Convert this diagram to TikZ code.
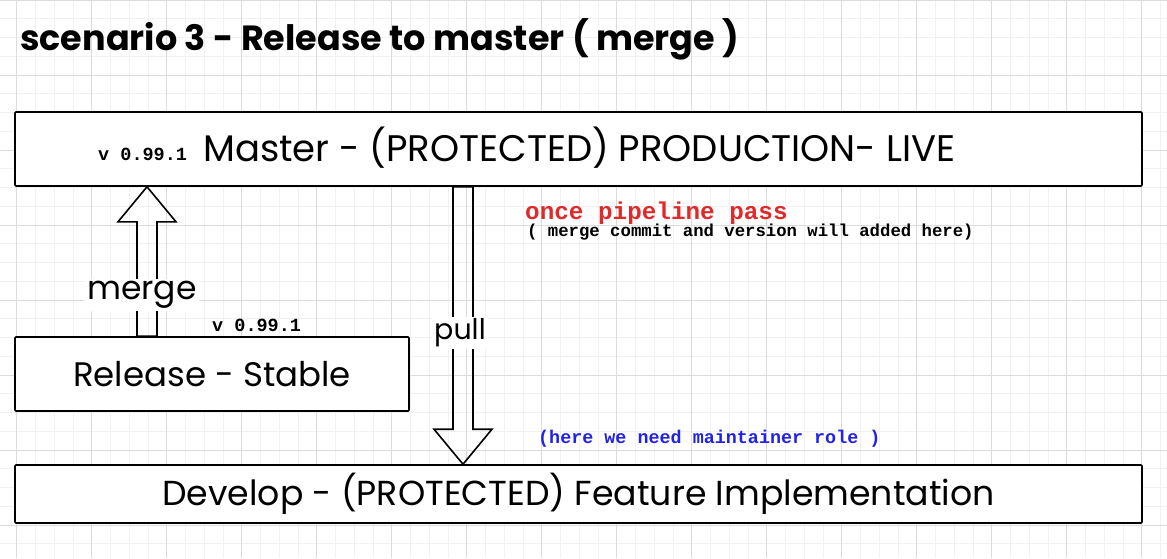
\documentclass[tikz,border=0pt]{standalone}
\usepackage{fontspec}
\usepackage{xcolor}
\setmainfont{Poppins}
\setmonofont{Liberation Mono}
\usetikzlibrary{calc, positioning}

\definecolor{gridminor}{HTML}{F1F1F1}
\definecolor{gridmajor}{HTML}{DCDCDC}
\definecolor{pipered}{HTML}{E02A2A}
\definecolor{noteblue}{HTML}{2222E6}

% hollow block arrow from #1 to #2 (vertical)
\newcommand{\hollowarrow}[2]{%
  \coordinate (hb) at ($(#2)!35pt!(#1)$);
  \draw[arrowline] ($(#1)+(-10,0)$) -- ($(hb)+(-10,0)$) -- ($(hb)+(-29,0)$) -- (#2)
    -- ($(hb)+(29,0)$) -- ($(hb)+(10,0)$) -- ($(#1)+(10,0)$) -- cycle;}

\begin{document}
\begin{tikzpicture}[
    x=1pt, y=-1pt,
    box/.style={
        rectangle,
        draw,
        fill=white,
        line width=1.6pt,
        rounded corners=1pt,
        inner sep=0pt
    },
    hand/.style={font=\fontsize{#1}{#1}\selectfont, inner sep=0pt},
    code/.style={font=\ttfamily\bfseries\fontsize{#1}{#1}\selectfont, inner sep=0pt},
    arrowline/.style={line width=1.6pt, line join=miter}
]

\useasboundingbox (0,0) rectangle (1167,558);
\fill[white] (0,0) rectangle (1167,558);

% grid
\foreach \i in {0,...,62}
    \draw[gridminor, line width=0.8pt] ({-2.083+18.75*\i},0) -- ++(0,558);
\foreach \j in {0,...,29}
    \draw[gridminor, line width=0.8pt] (0,{18.75*\j}) -- ++(1167,0);
\foreach \i in {0,...,15}
    \draw[gridmajor, line width=1pt] ({16.667+75*\i},0) -- ++(0,558);
\foreach \j in {0,...,7}
    \draw[gridmajor, line width=1pt] (0,{75*\j}) -- ++(1167,0);

\node (title) [hand=35, anchor=base west] at (20,50) {\bfseries scenario 3 - Release to master ( merge )};

\node (master) [box, minimum width=1127pt, minimum height=74pt] at (578.5,149) {};
\node (release) [box, minimum width=394pt, minimum height=74pt, hand=34] at (212,374) {Release - Stable};
\node (develop) [box, minimum width=1127pt, minimum height=58pt, hand=34.7] at (578.5,494) {Develop - (PROTECTED) Feature Implementation};

\node (masterver) [code=18.5, anchor=base west] at (98,160) {v 0.99.1};
\node (mastertext) [hand=37, anchor=base west] at (203,161) {Master - (PROTECTED) PRODUCTION- LIVE};
\node (releasever) [code=18.5, anchor=base west] at (212,331) {v 0.99.1};

\node (pipeline) [code=24.3, anchor=base west, text=pipered] at (525,219) {once pipeline pass};
\node (commitnote) [code=17.3, anchor=base west] at (527,236) {( merge commit and version will added here)};
\node (rolenote) [code=18.4, anchor=base west, text=noteblue] at (538,443) {(here we need maintainer role )};

\coordinate (mergefrom) at (release.north -| 147,0);
\coordinate (mergeto) at (master.south -| 147,0);
\coordinate (pullfrom) at (master.south -| 463,0);
\coordinate (pullto) at (develop.north -| 463,0);

\hollowarrow{mergefrom}{mergeto}
\hollowarrow{pullfrom}{pullto}

\node (mergelabel) [hand=33, fill=white, inner sep=2pt] at (142,295) {merge};
\node (pulllabel) [hand=28.5, fill=white, inner sep=2pt] at (460,333) {pull};

\end{tikzpicture}
\end{document}
